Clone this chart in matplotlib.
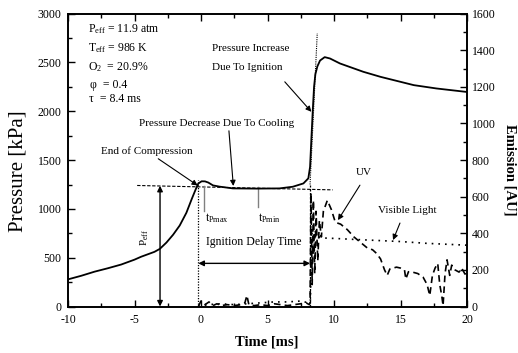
import numpy as np
import matplotlib
matplotlib.use("Agg")
import matplotlib.pyplot as plt
from matplotlib.ticker import MultipleLocator

plt.rcParams['font.family'] = ['Liberation Serif', 'DejaVu Serif']
plt.rcParams['mathtext.fontset'] = 'custom'
plt.rcParams['mathtext.rm'] = 'Liberation Serif'
plt.rcParams['mathtext.it'] = 'Liberation Serif:italic'
plt.rcParams['axes.unicode_minus'] = False

# pressure trace [kPa]
p_time = [-10, -9, -8, -7, -6, -5, -4.5, -4, -3.5, -3.1, -2.6, -2.1, -1.6, -1.1, -0.7, -0.4,
          -0.2, 0.05, 0.3, 0.55, 0.9, 1.4, 2.4, 4.2, 5.9, 6.9, 7.7, 8.07, 8.2, 8.3, 8.4, 8.5,
          8.6, 8.75, 8.95, 9.3, 9.7, 10.45, 12.2, 13.5, 16.0, 17.7, 20]
pressure = [278, 315, 357, 392, 430, 480, 510, 535, 560, 590, 655, 735, 830, 960, 1100, 1200,
            1261, 1283, 1282, 1270, 1241, 1228, 1210, 1208, 1210, 1227, 1261, 1313, 1430, 1720, 2000, 2250,
            2380, 2460, 2520, 2555, 2541, 2490, 2405, 2353, 2268, 2234, 2198]

# UV emission [AU]
uv_time = [-0.2, 0.0, 0.3, 0.6, 0.9, 1.2, 1.5, 2.0, 2.5, 3.0, 3.3, 3.45, 3.6, 4.0, 4.5, 5.0,
           5.5, 6.0, 6.5, 7.0, 7.5, 7.9, 8.15, 8.2, 8.27, 8.36, 8.45, 8.55, 8.65, 8.78,
           8.9, 9.05, 9.2, 9.5, 9.8, 10.1, 10.5, 11.0, 11.5, 12.0, 12.5,
           12.9, 13.2, 13.5, 13.8, 14.0, 14.2, 14.7, 15.0, 15.3, 15.4, 15.6, 15.9, 16.3,
           16.7, 17.0, 17.2, 17.4, 17.6, 17.8, 17.95, 18.1, 18.2, 18.35, 18.5, 18.7, 18.85,
           19.1, 19.4, 19.6, 19.85, 20]
uv = [0, 30, 10, 25, 5, 15, 5, 10, 5, 10, 20, 60, 10, 5, 10, 5,
      15, 10, 5, 10, 15, 20, 10, 20, 620, 120, 580, 180, 520, 250,
      470, 380, 520, 580, 530, 460, 450, 420, 380, 350, 320,
      310, 290, 260, 200, 170, 205, 215, 210, 200, 150, 190, 188, 180,
      160, 120, 60, 170, 210, 235, 120, 60, 5, 180, 255, 170, 226,
      200, 188, 210, 177, 200]

# visible light emission [AU]
vis_time = [-0.2, 0.5, 1.5, 2.5, 3.5, 4.5, 5.5, 6.5, 7.5, 8.1, 8.22, 8.32, 8.45, 8.6, 8.8,
            9.0, 10, 12, 15, 17, 20]
visible = [0, 10, 15, 10, 15, 20, 25, 25, 30, 20, 30, 400, 280, 410, 385,
           375, 372, 365, 355, 345, 335]

ax_left, ax_bottom = 68 / 518, 1 - 306.5 / 353
fig = plt.figure(figsize=(5.18, 3.53), dpi=100)
ax = fig.add_axes([ax_left, ax_bottom, 399 / 518, 292.8 / 353])
ax2 = ax.twinx()

ax.plot(p_time, pressure, color='black', lw=1.3, zorder=3)
ax2.plot(uv_time, uv, color='black', lw=1.2, ls=(0, (4, 2.5)))
ax2.plot(vis_time, visible, color='black', lw=1.2, ls=(0, (1, 3)))

ax.set_xlim(-10, 20)
ax.set_ylim(0, 3000)
ax2.set_ylim(0, 1600)

ax.xaxis.set_major_locator(MultipleLocator(5))
ax.xaxis.set_minor_locator(MultipleLocator(2.5))
ax.yaxis.set_major_locator(MultipleLocator(500))
ax.yaxis.set_minor_locator(MultipleLocator(250))
ax2.yaxis.set_major_locator(MultipleLocator(200))
ax2.yaxis.set_minor_locator(MultipleLocator(100))
ax.tick_params(which='both', direction='in', top=True, labelsize=8.5, width=1)
ax.tick_params(which='major', length=5)
ax.tick_params(which='minor', length=3)
ax.tick_params(axis='x', pad=5.5)
ax.tick_params(axis='y', pad=4.5)
ax2.tick_params(which='both', direction='in', labelsize=8.5, width=1)
ax2.tick_params(which='major', length=5)
ax2.tick_params(which='minor', length=3)
for a in (ax, ax2):
    for s in a.spines.values():
        s.set_linewidth(1.2)

fig.text(0.035, 0.514, 'Pressure [kPa]', rotation=90, ha='center', va='center', fontsize=15)
fig.text(0.985, 0.518, 'Emission [AU]', rotation=270, ha='center', va='center',
         fontsize=10.5, fontweight='bold')
fig.text(0.515, 0.031, 'Time [ms]', ha='center', va='center', fontsize=10.5, fontweight='bold')

# guide lines
ax.plot([-4.8, 9.9], [1240, 1195], color='black', lw=0.8, ls=(0, (3, 1.5)))
ax.plot([-0.2, -0.2], [0, 1300], color='black', lw=0.9, ls=(0, (1, 1.2)))
ax.plot([8.2, 8.2], [0, 1250], color='black', lw=0.9, ls=(0, (2, 1.2)))
ax.plot([8.2, 8.74], [1250, 2800], color='black', lw=0.8, ls=(0, (1, 1)))
ax.plot([0.25, 0.25], [1235, 980], color='gray', lw=1)
ax.plot([4.26, 4.26], [1220, 1019], color='gray', lw=1)

ap = dict(arrowstyle='-|>', color='black', lw=0.8, mutation_scale=8, shrinkA=0, shrinkB=0)
dap = dict(arrowstyle='<|-|>', color='black', lw=1.0, mutation_scale=8, shrinkA=0, shrinkB=0)

ax.annotate('', xy=(8.2, 442), xytext=(-0.2, 442), arrowprops=dap)
ax.annotate('', xy=(-3.08, 0), xytext=(-3.08, 1237), arrowprops=dap)
ax.text(-4.2, 711, r'P$_{\rm eff}$', rotation=90, ha='center', va='center', fontsize=8)
ax.text(3.95, 660, 'Ignition Delay Time', ha='center', va='center', fontsize=8.5)
ax.text(0.3, 906, r't$_{\rm Pmax}$', ha='left', va='center', fontsize=8.5)
ax.text(4.3, 906, r't$_{\rm Pmin}$', ha='left', va='center', fontsize=8.5)

ax.annotate('End of Compression', xy=(-0.25, 1240), xytext=(-4.06, 1592),
            ha='center', va='center', fontsize=8, arrowprops=ap)
ax.annotate('', xy=(2.43, 1235), xytext=(2.1, 1800), arrowprops=ap)
ax.text(1.2, 1878, 'Pressure Decrease Due To Cooling', ha='center', va='center', fontsize=8)
ax.annotate('', xy=(8.3, 1995), xytext=(6.3, 2302), arrowprops=ap)
ax.text(0.8, 2640, 'Pressure Increase', ha='left', va='center', fontsize=8)
ax.text(0.8, 2450, 'Due To Ignition', ha='left', va='center', fontsize=8)

ax2.annotate('', xy=(10.3, 472), xytext=(11.95, 663), arrowprops=ap)
ax2.text(12.26, 734, 'UV', ha='center', va='center', fontsize=8)
ax2.annotate('', xy=(14.44, 363), xytext=(14.96, 456), arrowprops=ap)
ax2.text(15.5, 527, 'Visible Light', ha='center', va='center', fontsize=8)

info = [(-8.5, 2841, r'P$_{\rm eff}$ = 11.9 atm'),
        (-8.5, 2647, r'T$_{\rm eff}$ = 986 K'),
        (-8.5, 2452, r'O$_2$  = 20.9%'),
        (-8.35, 2268, 'φ  = 0.4'),
        (-8.4, 2125, 'τ  = 8.4 ms')]
for x, y, s in info:
    ax.text(x, y, s, ha='left', va='center', fontsize=8.5)

fig.savefig('out.png', dpi=100)
